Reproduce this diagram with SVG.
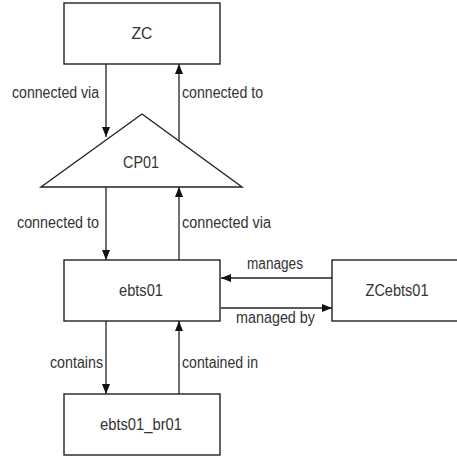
<svg xmlns="http://www.w3.org/2000/svg" width="457" height="458" viewBox="0 0 457 458">
  <style>
    .box { fill: #ffffff; stroke: #222222; stroke-width: 1.4; }
    .label { font-family: "Liberation Sans", Arial, sans-serif; font-size: 17px; fill: #333333; text-anchor: middle; }
    .edge { fill: none; stroke: #222222; stroke-width: 1.3; marker-end: url(#arrow); }
    .elabel { font-family: "Liberation Sans", Arial, sans-serif; font-size: 16px; fill: #333333; }
  </style>
  <defs>
    <marker id="arrow" viewBox="0 0 10 8" refX="10" refY="4" markerWidth="10" markerHeight="8" markerUnits="userSpaceOnUse" orient="auto">
      <path d="M0,0 L10,4 L0,8 Z" fill="#111111"/>
    </marker>
  </defs>
  <rect width="457" height="458" fill="#ffffff"/>

  <g id="connectors">
    <!-- ZC <-> CP01 -->
    <line class="edge" x1="106" y1="64" x2="106" y2="137"/>
    <line class="edge" x1="179" y1="141" x2="179" y2="64"/>
    <!-- CP01 <-> ebts01 -->
    <line class="edge" x1="106" y1="187" x2="106" y2="260"/>
    <line class="edge" x1="179" y1="260" x2="179" y2="187"/>
    <!-- ZCebts01 <-> ebts01 -->
    <line class="edge" x1="332" y1="278" x2="221" y2="278"/>
    <line class="edge" x1="221" y1="308" x2="332" y2="308"/>
    <!-- ebts01 <-> ebts01_br01 -->
    <line class="edge" x1="106" y1="321" x2="106" y2="394"/>
    <line class="edge" x1="179" y1="394" x2="179" y2="321"/>

    <!-- condensed labels: glyphs drawn narrower than their height -->
    <text class="elabel" x="12" y="98" textLength="87" lengthAdjust="spacingAndGlyphs">connected via</text>
    <text class="elabel" x="182" y="98" textLength="81" lengthAdjust="spacingAndGlyphs">connected to</text>
    <text class="elabel" x="17" y="228" textLength="82" lengthAdjust="spacingAndGlyphs">connected to</text>
    <text class="elabel" x="182" y="228" textLength="89" lengthAdjust="spacingAndGlyphs">connected via</text>
    <text class="elabel" x="247" y="269" textLength="56" lengthAdjust="spacingAndGlyphs">manages</text>
    <text class="elabel" x="236" y="323" textLength="79" lengthAdjust="spacingAndGlyphs">managed by</text>
    <text class="elabel" x="50" y="368" textLength="53" lengthAdjust="spacingAndGlyphs">contains</text>
    <text class="elabel" x="182" y="368" textLength="76" lengthAdjust="spacingAndGlyphs">contained in</text>
  </g>

  <g id="ZC">
    <rect class="box" x="64" y="3" width="156" height="61"/>
    <text class="label" x="142" y="39" textLength="21" lengthAdjust="spacingAndGlyphs">ZC</text>
  </g>

  <g id="CP01">
    <polygon class="box" points="142,114 242,187 41,187"/>
    <text class="label" x="141" y="168" textLength="36" lengthAdjust="spacingAndGlyphs">CP01</text>
  </g>

  <g id="ebts01">
    <rect class="box" x="64" y="260" width="156" height="61"/>
    <text class="label" x="141" y="296" textLength="44" lengthAdjust="spacingAndGlyphs">ebts01</text>
  </g>

  <g id="ZCebts01">
    <rect class="box" x="332" y="260" width="140" height="61"/>
    <text class="label" x="397" y="296" textLength="63" lengthAdjust="spacingAndGlyphs">ZCebts01</text>
  </g>

  <g id="ebts01_br01">
    <rect class="box" x="64" y="394" width="156" height="61"/>
    <text class="label" x="141" y="430" textLength="82" lengthAdjust="spacingAndGlyphs">ebts01_br01</text>
  </g>
</svg>
